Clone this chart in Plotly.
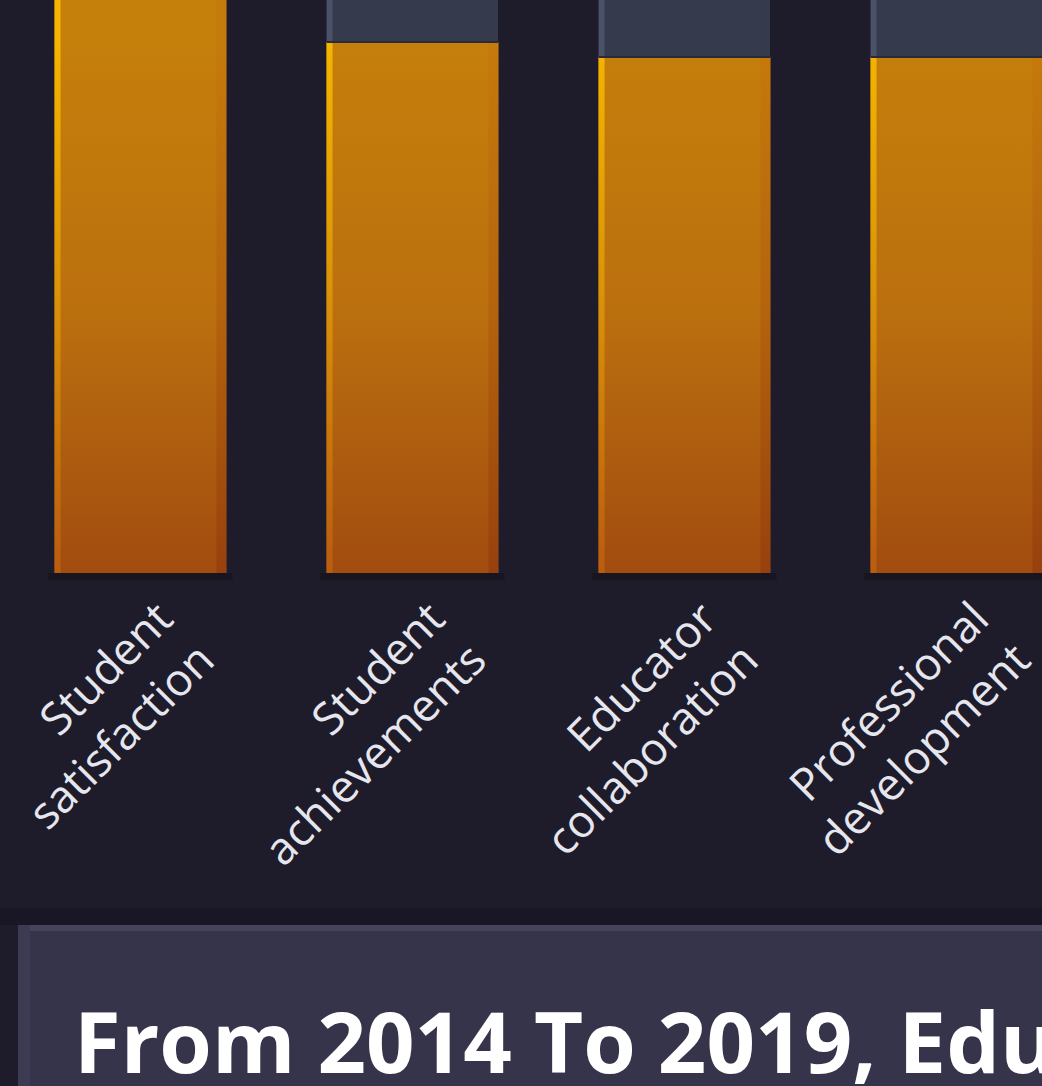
import plotly.graph_objects as go

# ---- data ----
categories = ["Student<br>satisfaction", "Student<br>achievements",
              "Educator<br>collaboration", "Professional<br>development"]
scores = [97, 88.5, 86, 86]          # orange portion
full_scale = 100                      # track total
remainder = [full_scale - v for v in scores]
title_text = "From 2014 To 2019, Education Metrics Improved"

# ---- style ----
BG = "#1e1c2b"
W = 1042
H = 1086
PLOT_BOTTOM_PX = 582
Y_MIN, Y_MAX = -1.5, 95.5
bar_w = 0.632

x = list(range(len(categories)))
fig = go.Figure()

fig.add_trace(go.Bar(x=x, y=scores, width=bar_w, marker=dict(color="#bb6d0d", line=dict(width=0)),
                     showlegend=False, hoverinfo="skip"))
fig.add_trace(go.Bar(x=x, y=remainder, width=bar_w, marker=dict(color="#363a4d", line=dict(width=0)),
                     showlegend=False, hoverinfo="skip"))

stripe = 6 / 272.0
edge = 10 / 272.0
pad = 6 / 272.0
for i, (v, r) in enumerate(zip(scores, remainder)):
    x0, x1 = i - bar_w / 2, i + bar_w / 2
    # soft shadow under the bar
    fig.add_trace(go.Scatter(x=[x0 - pad, x1 + pad, x1 + pad, x0 - pad, x0 - pad], y=[Y_MIN * 0.8, Y_MIN * 0.8, 0, 0, Y_MIN * 0.8],
                             mode="lines", line=dict(width=0), fill="toself", fillcolor="#17151f",
                             showlegend=False, hoverinfo="skip"))
    # main vertical gradient of the orange portion
    fig.add_trace(go.Scatter(x=[x0, x1, x1, x0, x0], y=[0, 0, v, v, 0], mode="lines",
                             line=dict(width=0), fill="toself",
                             fillgradient=dict(type="vertical", start=0, stop=88,
                                               colorscale=[[0, "#a24c10"], [0.5, "#bb700e"], [1, "#c57f0b"]]),
                             showlegend=False, hoverinfo="skip"))
    # right darker edge
    fig.add_trace(go.Scatter(x=[x1 - edge, x1, x1, x1 - edge, x1 - edge], y=[0, 0, v, v, 0], mode="lines",
                             line=dict(width=0), fill="toself",
                             fillgradient=dict(type="vertical", start=0, stop=88,
                                               colorscale=[[0, "rgba(140,50,10,0.45)"], [1, "rgba(200,110,15,0.35)"]]),
                             showlegend=False, hoverinfo="skip"))
    # left yellow highlight
    fig.add_trace(go.Scatter(x=[x0, x0 + stripe, x0 + stripe, x0, x0], y=[0, 0, v, v, 0], mode="lines",
                             line=dict(width=0), fill="toself",
                             fillgradient=dict(type="vertical", start=0, stop=88,
                                               colorscale=[[0, "#b95c10"], [0.5, "#d99008"], [1, "#f5b500"]]),
                             showlegend=False, hoverinfo="skip"))
    # grey track left highlight
    fig.add_trace(go.Scatter(x=[x0, x0 + stripe, x0 + stripe, x0, x0], y=[v, v, v + r, v + r, v], mode="lines",
                             line=dict(width=0), fill="toself", fillcolor="#4b5166",
                             showlegend=False, hoverinfo="skip"))
    # seam between orange and grey
    fig.add_trace(go.Scatter(x=[x0, x1], y=[v, v], mode="lines",
                             line=dict(width=2, color="#2a2a3a"),
                             showlegend=False, hoverinfo="skip"))

plot_h = PLOT_BOTTOM_PX
def py(px):
    return (PLOT_BOTTOM_PX - px) / plot_h

shapes = [
    # shadow above the panel
    dict(type="rect", xref="paper", yref="paper", x0=0, x1=1, y0=py(925), y1=py(908),
         fillcolor="#191725", line=dict(width=0), layer="below"),
    # title panel
    dict(type="rect", xref="paper", yref="paper", x0=18 / W, x1=1.05, y0=py(1200), y1=py(925),
         fillcolor="#35344a", line=dict(width=0), layer="below"),
    dict(type="rect", xref="paper", yref="paper", x0=18 / W, x1=1.05, y0=py(931), y1=py(925),
         fillcolor="#45445a", line=dict(width=0), layer="below"),
    dict(type="rect", xref="paper", yref="paper", x0=18 / W, x1=30 / W, y0=py(1200), y1=py(925),
         fillcolor="#3c3b51", line=dict(width=0), layer="below"),
]

fig.update_layout(
    width=W, height=H,
    margin=dict(l=0, r=0, t=0, b=H - PLOT_BOTTOM_PX, pad=0, autoexpand=False),
    paper_bgcolor=BG, plot_bgcolor=BG,
    barmode="stack", bargap=0,
    showlegend=False,
    shapes=shapes,
    xaxis=dict(range=[-140.5 / 272, (W - 140.5) / 272], tickmode="array", tickvals=x, ticktext=categories,
               tickangle=-45, tickfont=dict(family="Open Sans", size=45, color="#e6e6ee"),
               ticklabeloverflow="allow", ticklabelshift=19, automargin=False,
               showgrid=False, zeroline=False, showline=False, ticks="", ticklen=0),
    yaxis=dict(range=[Y_MIN, Y_MAX], showgrid=False, zeroline=False, showline=False,
               showticklabels=False, automargin=False),
    annotations=[dict(text="<b>" + title_text + "</b>", xref="paper", yref="paper",
                      x=72 / W, y=py(1040), xanchor="left", yanchor="middle", showarrow=False,
                      font=dict(family="Open Sans", size=85, color="#ffffff"))],
)

fig.write_html("out.html", config={"displayModeBar": False, "staticPlot": True},
               post_script="document.body.style.margin='0';document.body.style.overflow='hidden';")
